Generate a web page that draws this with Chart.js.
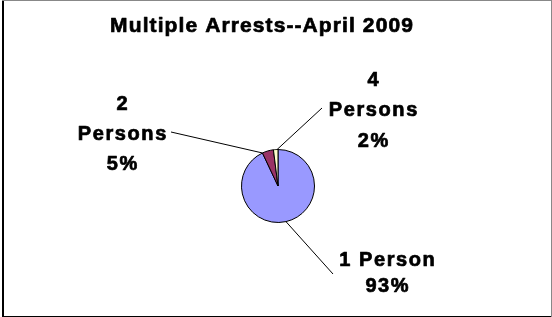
<!DOCTYPE html>
<html>
<head>
<meta charset="utf-8">
<script src="https://cdn.jsdelivr.net/npm/chart.js@4/dist/chart.umd.min.js"></script>
<style>
  html, body { margin: 0; padding: 0; background: #fff; }
  #wrap { width: 552px; height: 317px; position: relative; }
</style>
</head>
<body>
<div id="wrap"><canvas id="c" width="552" height="317"></canvas></div>
<script>
const title = "Multiple Arrests--April 2009";
const categories = ["1 Person", "2 Persons", "4 Persons"];
const values = [93, 5, 2];
const percentLabels = ["93%", "5%", "2%"];
const labelLines = [["1 Person", "93%"], ["2", "Persons", "5%"], ["4", "Persons", "2%"]];
const colors = ["#9999FF", "#993366", "#FFFFCC"];

const labelLayout = [
  { x: 387, baselines: [266, 292], lead: [333, 274], frac: 0.5 },
  { x: 122, baselines: [110, 140, 170], lead: [171, 132], frac: 0.0 },
  { x: 373, baselines: [86, 116, 147], lead: [322, 108], frac: 0.8 }
];

const FONT = 'Arial, "Liberation Sans", sans-serif';

function drawSpaced(ctx, text, cx, y, spacing) {
  ctx.letterSpacing = spacing + 'px';
  const w = ctx.measureText(text).width - spacing;
  ctx.textAlign = 'left';
  ctx.fillText(text, cx - w / 2, y);
  ctx.lineWidth = 0.7;
  ctx.strokeStyle = '#000';
  ctx.lineJoin = 'round';
  ctx.strokeText(text, cx - w / 2, y);
  ctx.letterSpacing = '0px';
}

const decor = {
  id: 'decor',
  beforeDraw(chart) {
    const ctx = chart.ctx;
    ctx.save();
    ctx.fillStyle = '#fff';
    ctx.fillRect(0, 0, chart.width, chart.height);
    ctx.restore();
  },
  afterDraw(chart) {
    const ctx = chart.ctx;
    ctx.save();
    ctx.fillStyle = '#000';
    ctx.fillRect(2, 0, 2, 317);
    ctx.fillRect(2, 316, 550, 1);
    ctx.fillStyle = '#888';
    ctx.fillRect(2, 0, 550, 1);
    ctx.fillRect(551, 0, 1, 317);

    ctx.fillStyle = '#000';
    ctx.textBaseline = 'alphabetic';
    ctx.font = 'bold 21px ' + FONT;
    drawSpaced(ctx, title, 261.5, 32, 1.1);

    const meta = chart.getDatasetMeta(0);
    meta.data.forEach((arc, i) => {
      const L = labelLayout[i];
      const p = arc.getProps(['x', 'y', 'startAngle', 'endAngle', 'outerRadius'], true);
      const a = p.startAngle + (p.endAngle - p.startAngle) * L.frac;
      const ex = p.x + Math.cos(a) * p.outerRadius;
      const ey = p.y + Math.sin(a) * p.outerRadius;
      ctx.strokeStyle = '#000';
      ctx.lineWidth = 1;
      ctx.beginPath();
      ctx.moveTo(L.lead[0], L.lead[1]);
      ctx.lineTo(ex, ey);
      ctx.stroke();
      ctx.font = 'bold 20px ' + FONT;
      ctx.fillStyle = '#000';
      labelLines[i].forEach((t, k) => drawSpaced(ctx, t, L.x, L.baselines[k], 1.6));
    });
    ctx.restore();
  }
};

new Chart(document.getElementById('c'), {
  type: 'pie',
  data: {
    labels: categories,
    datasets: [{
      data: values,
      backgroundColor: colors,
      borderColor: '#000',
      borderWidth: 1
    }]
  },
  options: {
    responsive: false,
    animation: false,
    layout: { padding: { left: 200, right: 196, top: 149, bottom: 94 } },
    plugins: { legend: { display: false }, tooltip: { enabled: false }, title: { display: false } }
  },
  plugins: [decor]
});
</script>
</body>
</html>
